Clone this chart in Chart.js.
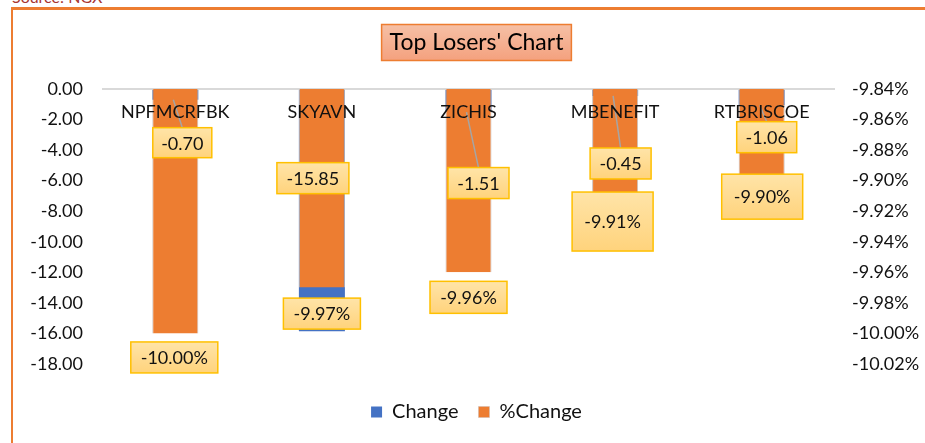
<!DOCTYPE html>
<html>
<head>
<meta charset="utf-8">
<title>Top Losers' Chart</title>
<script src="https://cdn.jsdelivr.net/npm/chart.js@4.4.1/dist/chart.umd.min.js"></script>
<style>
  html, body { margin: 0; background: #fff; overflow: hidden; }
  body { font-family: Lato, sans-serif; }
  #source { position: absolute; left: 12px; top: -11px; font-size: 16px; line-height: 16px; color: #A8352F; }
  #frame { position: absolute; left: 11px; top: 7px; width: 912px; height: 433px;
           border-top: 3px solid #ED7D31; border-left: 2px solid #ED7D31; }
  #wrap { position: relative; width: 912px; height: 433px; }
  #edge { position: absolute; left: 920px; top: 11px; width: 5px; height: 432px; background: #fff; }
</style>
</head>
<body>
<div id="source">Source: NGX</div>
<div id="frame"><div id="wrap"><canvas id="losers"></canvas></div></div>
<div id="edge"></div>
<script>
(function () {
  "use strict";

  // data
  const tickers      = ['NPFMCRFBK', 'SKYAVN', 'ZICHIS', 'MBENEFIT', 'RTBRISCOE'];
  const changeValues = [-0.70, -15.85, -1.51, -0.45, -1.06];
  const pctValues    = [-10.00, -9.97, -9.96, -9.91, -9.90];

  // colors
  const blue   = '#4472C4';
  const orange = '#ED7D31';
  const text_dark = '#111111';

  // label boxes: offset of the box centre from the bar end, box size
  const changeBoxes = [
    { dx: 7,   dy: 43,   w: 59, h: 30 },
    { dx: -9,  dy: -153, w: 72, h: 31 },
    { dx: 10,  dy: 71,   w: 61, h: 31 },
    { dx: 5.5, dy: 67.6, w: 61, h: 31 },
    { dx: 5,   dy: 32,   w: 60, h: 31 }
  ];
  const pctBoxes = [
    { dx: -1,   dy: 24,   w: 87, h: 31 },
    { dx: 0,    dy: 26,   w: 77, h: 31 },
    { dx: 0,    dy: 25,   w: 77, h: 32 },
    { dx: -2.5, dy: 25.6, w: 81, h: 59 },
    { dx: 0.5,  dy: 16,   w: 81, h: 45 }
  ];

  Chart.defaults.font.family = 'Lato, sans-serif';
  Chart.defaults.color = text_dark;

  function drawBox(ctx, cx, cy, w, h, label) {
    const x = cx - w / 2, y = cy - h / 2;
    const grad = ctx.createLinearGradient(0, y, 0, y + h);
    grad.addColorStop(0, '#FFE4A8');
    grad.addColorStop(1, '#FFD37C');
    ctx.fillStyle = grad;
    ctx.fillRect(x, y, w, h);
    ctx.strokeStyle = '#FFC000';
    ctx.lineWidth = 1.5;
    ctx.strokeRect(x, y, w, h);
    ctx.fillStyle = text_dark;
    ctx.fillText(label, cx, cy + 1);
  }

  // title background box
  const titleBox = {
    id: 'titleBox',
    beforeDraw(chart) {
      const tb = chart.titleBlock;
      if (!tb) return;
      const ctx = chart.ctx;
      const opts = chart.options.plugins.title;
      const font = Chart.helpers.toFont(opts.font);
      ctx.save();
      ctx.font = font.string;
      const tw = ctx.measureText(opts.text).width;
      const cx = (tb.left + tb.right) / 2;
      const cy = tb.top + opts.padding.top + font.lineHeight / 2;
      const grad = ctx.createLinearGradient(0, cy - 18, 0, cy + 18);
      grad.addColorStop(0, '#F6C0A6');
      grad.addColorStop(1, '#F4A17E');
      ctx.fillStyle = grad;
      ctx.fillRect(cx - tw / 2 - 8, cy - 18, tw + 16, 36);
      ctx.strokeStyle = orange;
      ctx.lineWidth = 1.5;
      ctx.strokeRect(cx - tw / 2 - 8, cy - 18, tw + 16, 36);
      ctx.restore();
    }
  };

  // category names under the zero line, leader lines, data labels
  const barLabels = {
    id: 'barLabels',
    afterDatasetsDraw(chart) {
      const ctx = chart.ctx;
      const xs = chart.scales.x;
      const y0 = chart.scales.y.getPixelForValue(0);
      const chMeta = chart.getDatasetMeta(0);
      const pcMeta = chart.getDatasetMeta(1);
      ctx.save();

      // leader lines
      ctx.strokeStyle = '#A5A5A5';
      ctx.lineWidth = 1.5;
      chMeta.data.forEach(function (bar, i) {
        const b = changeBoxes[i];
        const top = bar.y + b.dy - b.h / 2;
        if (top > bar.y + 8) {
          ctx.beginPath();
          ctx.moveTo(bar.x - 2, bar.y);
          ctx.lineTo(bar.x + b.dx, top);
          ctx.stroke();
        }
      });

      ctx.font = '18px Lato, sans-serif';
      ctx.textAlign = 'center';
      ctx.textBaseline = 'middle';
      ctx.fillStyle = text_dark;
      tickers.forEach(function (t, i) {
        ctx.fillText(t, xs.getPixelForValue(i), y0 + 23);
      });

      pcMeta.data.forEach(function (bar, i) {
        const b = pctBoxes[i];
        drawBox(ctx, bar.x + b.dx, bar.y + b.dy, b.w, b.h, pctValues[i].toFixed(2) + '%');
      });
      chMeta.data.forEach(function (bar, i) {
        const b = changeBoxes[i];
        drawBox(ctx, bar.x + b.dx, bar.y + b.dy, b.w, b.h, changeValues[i].toFixed(2));
      });
      ctx.restore();
    }
  };

  const ctl = document.getElementById('losers').getContext('2d');
  new Chart(ctl, {
    type: 'bar',
    data: {
      labels: tickers,
      datasets: [{
        label: 'Change',
        data: changeValues,
        backgroundColor: blue,
        yAxisID: 'y',
        order: 1,
        grouped: false,
        categoryPercentage: 1,
        barPercentage: 0.314
      }, {
        label: '%Change',
        data: pctValues,
        backgroundColor: orange,
        borderColor: 'rgba(200,185,180,0.9)',
        borderWidth: { left: 1, right: 1, top: 0, bottom: 0 },
        yAxisID: 'y1',
        order: 0,
        grouped: false,
        categoryPercentage: 1,
        barPercentage: 0.314
      }]
    },
    options: {
      responsive: true,
      maintainAspectRatio: false,
      animation: false,
      events: [],
      layout: { padding: { left: 15, right: 0, top: 0, bottom: 11 } },
      scales: {
        x: {
          display: true,
          grid: { display: false },
          border: { display: false },
          ticks: { display: false },
          afterFit: function (s) { s.height = 18; }
        },
        y: {
          position: 'left',
          min: -18,
          max: 0,
          border: { display: false },
          grid: {
            drawTicks: false,
            lineWidth: 2,
            color: (c) => c.tick && c.tick.value === 0 ? '#D9D9D9' : 'rgba(0,0,0,0)'
          },
          ticks: {
            stepSize: 2,
            padding: 19,
            font: { size: 18 },
            callback: (v) => v.toFixed(2)
          },
          afterFit: function (s) { s.width = 74; }
        },
        y1: {
          position: 'right',
          min: -10.02,
          max: -9.84,
          border: { display: false },
          grid: { display: false, drawTicks: false },
          ticks: {
            stepSize: 0.02,
            padding: 17,
            font: { size: 18 },
            callback: (v) => v.toFixed(2) + '%'
          },
          afterFit: function (s) { s.width = 90; }
        }
      },
      plugins: {
        title: {
          display: true,
          text: "Top Losers' Chart",
          color: '#000',
          font: { size: 23, weight: 'normal', lineHeight: 1 },
          padding: { top: 21, bottom: 35 }
        },
        legend: {
          position: 'bottom',
          labels: {
            boxWidth: 11,
            boxHeight: 11,
            padding: 20,
            color: text_dark,
            font: { size: 20 },
            sort: (a, b) => a.datasetIndex - b.datasetIndex
          }
        },
        tooltip: { enabled: false }
      }
    },
    plugins: [titleBox, barLabels]
  });
})();
</script>
</body>
</html>
